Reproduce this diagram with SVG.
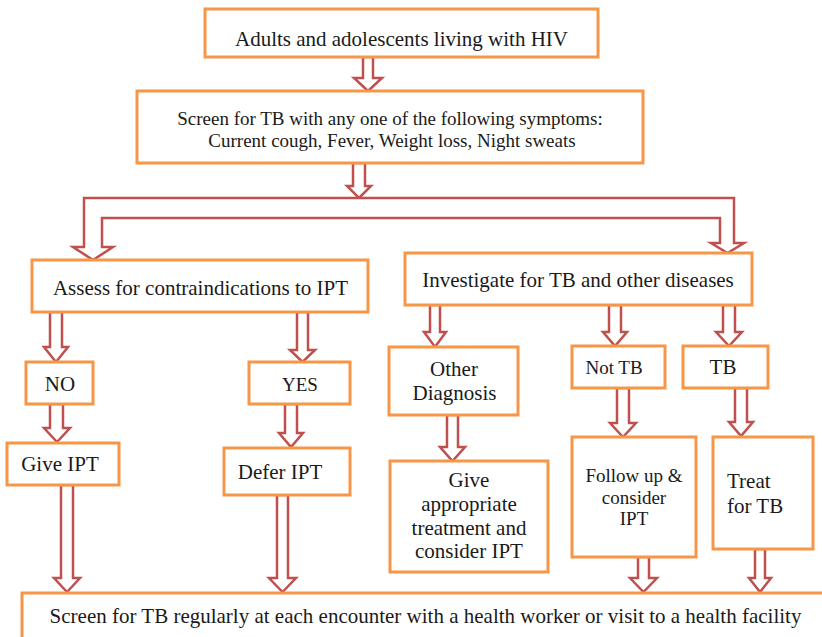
<svg xmlns="http://www.w3.org/2000/svg" width="822" height="637" viewBox="0 0 822 637">
<style>
.box{fill:#fff;stroke:#F79646;stroke-width:3}
.arr{fill:#fff;stroke:#C0504D;stroke-width:2.5;stroke-linejoin:miter}
text{font-family:"Liberation Serif","Times New Roman",serif;font-size:21px;fill:#1a1a1a;text-anchor:middle}
.s19{font-size:19px}
.l{text-anchor:start}
</style>
<rect width="822" height="637" fill="#fff"/>
<g id="connectors">
<path class="arr" d="M363,57 L373,57 L373,78 L382,78 L368,91 L354,78 L363,78 Z"/>
<path class="arr" d="M353,163 L365,163 L365,186 L371,186 L359,198 L347,186 L353,186 Z"/>
<path class="arr" d="M84,198 L734,198 L734,243 L744,243 L727.5,253 L711,243 L720,243 L720,218 L102,218 L102,247 L113,247 L93,260 L73,247 L84,247 Z"/>
<path class="arr" d="M50,312 L62,312 L62,347 L68,347 L56,362 L44,347 L50,347 Z"/>
<path class="arr" d="M297,312 L308,312 L308,350 L315,350 L302.5,362 L290,350 L297,350 Z"/>
<path class="arr" d="M50,404 L63,404 L63,428 L70,428 L57,442 L44,428 L50,428 Z"/>
<path class="arr" d="M285,404 L297,404 L297,433 L303,433 L291,447 L279,433 L285,433 Z"/>
<path class="arr" d="M430,305 L440,305 L440,332 L446,332 L435,347 L424,332 L430,332 Z"/>
<path class="arr" d="M609,305 L621,305 L621,332 L627,332 L615,346 L603,332 L609,332 Z"/>
<path class="arr" d="M723,305 L735,305 L735,332 L742,332 L729,346 L716,332 L723,332 Z"/>
<path class="arr" d="M447,415 L458,415 L458,447 L465,447 L452.5,461 L440,447 L447,447 Z"/>
<path class="arr" d="M617,388 L629,388 L629,423 L636,423 L623,437 L610,423 L617,423 Z"/>
<path class="arr" d="M735,388 L747,388 L747,422 L753,422 L741,436 L729,422 L735,422 Z"/>
<path class="arr" d="M61,485 L73,485 L73,578 L80,578 L67,592 L54,578 L61,578 Z"/>
<path class="arr" d="M277,495 L288,495 L288,578 L296,578 L282.5,592 L269,578 L277,578 Z"/>
<path class="arr" d="M638,557 L649,557 L649,578 L657,578 L643.5,592 L630,578 L638,578 Z"/>
<path class="arr" d="M755,549 L765,549 L765,578 L771,578 L760,592 L749,578 L755,578 Z"/>
</g>
<g id="n-start"><rect class="box" x="205" y="9" width="393" height="48"/><text x="401.5" y="46">Adults and adolescents living with HIV</text></g>
<g id="n-screen"><rect class="box" x="137" y="91" width="506" height="72"/><text class="s19" x="390" y="125">Screen for TB with any one of the following symptoms:</text><text class="s19" x="392" y="147">Current cough, Fever, Weight loss, Night sweats</text></g>
<g id="n-assess"><rect class="box" x="32" y="260" width="336" height="52"/><text x="200.5" y="295">Assess for contraindications to IPT</text></g>
<g id="n-investigate"><rect class="box" x="405" y="253" width="347" height="52"/><text x="578" y="287">Investigate for TB and other diseases</text></g>
<g id="n-no"><rect class="box" x="26" y="362" width="67" height="42"/><text x="60" y="391">NO</text></g>
<g id="n-yes"><rect class="box" x="249" y="362" width="101" height="42"/><text class="s19" x="300" y="391">YES</text></g>
<g id="n-give"><rect class="box" x="7" y="443" width="112" height="42"/><text x="60" y="471">Give IPT</text></g>
<g id="n-defer"><rect class="box" x="224" y="448" width="126" height="47"/><text x="280" y="479">Defer IPT</text></g>
<g id="n-other"><rect class="box" x="389" y="347" width="129" height="68"/><text x="454" y="376">Other</text><text x="454.5" y="400">Diagnosis</text></g>
<g id="n-nottb"><rect class="box" x="572" y="346" width="93" height="42"/><text class="s19" x="614" y="374">Not TB</text></g>
<g id="n-tb"><rect class="box" x="683" y="346" width="85" height="42"/><text x="723" y="374">TB</text></g>
<g id="n-giveappr"><rect class="box" x="390" y="461" width="158" height="111"/><text x="469" y="487">Give</text><text x="469" y="511">appropriate</text><text x="469" y="535">treatment and</text><text x="469" y="558">consider IPT</text></g>
<g id="n-follow"><rect class="box" x="572" y="437" width="124" height="120"/><text class="s19" x="634" y="482">Follow up &amp;</text><text class="s19" x="634" y="504">consider</text><text class="s19" x="634" y="525">IPT</text></g>
<g id="n-treat"><rect class="box" x="713" y="437" width="100" height="112"/><text class="l" x="727" y="488">Treat</text><text class="l" x="727" y="513">for TB</text></g>
<g id="n-regular"><rect class="box" x="22" y="593" width="830" height="60"/><text x="425.5" y="623">Screen for TB regularly at each encounter with a health worker or visit to a health facility</text></g>
</svg>
